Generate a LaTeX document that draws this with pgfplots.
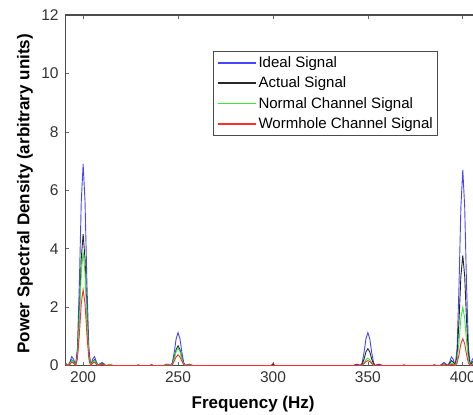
\documentclass[border=0pt]{standalone}
\usepackage{fontspec}
\setmainfont{Liberation Sans}
\usepackage{pgfplots}
\pgfplotsset{compat=1.18}
\usepackage{pgfplotstable}

\definecolor{cBlue}{RGB}{70,70,255}
\definecolor{cBlack}{RGB}{40,40,40}
\definecolor{cGreen}{RGB}{50,235,50}
\definecolor{cRed}{RGB}{255,45,45}

\pgfplotstableread{
x    ideal actual normal worm
186  0    0    0    0
188  0    0    0    0
189  0.06 0.04 0.03 0.02
190  0.11 0.07 0.06 0.04
191  0.07 0.05 0.04 0.03
192  0    0    0    0
193  0.12 0.08 0.07 0.04
194  0.31 0.20 0.18 0.12
195  0.22 0.14 0.12 0.08
196  0    0    0    0
197  0.62 0.41 0.35 0.23
198  2.79 1.82 1.58 1.05
199  5.60 3.65 3.16 2.11
200  6.90 4.50 3.90 2.60
201  5.60 3.65 3.16 2.11
202  2.79 1.82 1.58 1.05
203  0.62 0.41 0.35 0.23
204  0    0    0    0
205  0.22 0.14 0.12 0.08
206  0.31 0.20 0.18 0.12
207  0.12 0.08 0.07 0.04
208  0    0    0    0
209  0.07 0.05 0.04 0.03
210  0.11 0.07 0.06 0.04
211  0.06 0.04 0.03 0.02
212  0    0    0    0
214  0.03 0.02 0.04 0.01
216  0    0    0    0
228  0    0    0    0
229  0.02 0.02 0.03 0.01
230  0    0    0    0
235  0    0    0    0
236  0.02 0.03 0.02 0.01
237  0    0    0    0
242  0    0    0    0
243  0.02 0.01 0.01 0.01
244  0.05 0.03 0.03 0.02
245  0.04 0.02 0.02 0.01
246  0    0    0    0
247  0.10 0.06 0.05 0.03
248  0.46 0.28 0.24 0.15
249  0.92 0.55 0.49 0.30
250  1.13 0.68 0.60 0.37
251  0.92 0.55 0.49 0.30
252  0.46 0.28 0.24 0.15
253  0.10 0.06 0.05 0.03
254  0    0    0    0
255  0.04 0.02 0.02 0.01
256  0.05 0.03 0.03 0.02
257  0.02 0.01 0.01 0.01
258  0    0    0    0
299  0    0    0    0
300  0    0.06 0    0
301  0    0    0    0
342  0    0    0    0
343  0.02 0.01 0    0
344  0.05 0.03 0.01 0.01
345  0.04 0.02 0.01 0.01
346  0    0    0    0
347  0.10 0.05 0.02 0.02
348  0.46 0.23 0.10 0.07
349  0.92 0.47 0.20 0.14
350  1.13 0.58 0.25 0.17
351  0.92 0.47 0.20 0.14
352  0.46 0.23 0.10 0.07
353  0.10 0.05 0.02 0.02
354  0    0    0    0
355  0.04 0.02 0.01 0.01
356  0.05 0.03 0.01 0.01
357  0.02 0.01 0    0
358  0    0    0    0
368  0    0    0    0
369  0.02 0.02 0.01 0.01
370  0    0    0    0
384  0    0    0    0
385  0.03 0.02 0.02 0.01
386  0    0    0    0
388  0    0    0    0
389  0.05 0.03 0.02 0.01
390  0.11 0.06 0.03 0.01
391  0.07 0.04 0.02 0.01
392  0    0    0    0
393  0.11 0.06 0.03 0.02
394  0.30 0.17 0.09 0.04
395  0.21 0.12 0.06 0.03
396  0    0    0    0
397  0.60 0.34 0.18 0.08
398  2.71 1.53 0.81 0.37
399  5.43 3.06 1.62 0.75
400  6.70 3.77 2.00 0.92
401  5.43 3.06 1.62 0.75
402  2.71 1.53 0.81 0.37
403  0.60 0.34 0.18 0.08
404  0    0    0    0
405  0.21 0.12 0.06 0.03
406  0.30 0.17 0.09 0.04
407  0.11 0.06 0.03 0.02
408  0    0    0    0
}\psd

\begin{document}
\begin{tikzpicture}
\begin{axis}[
    scale only axis,
    width=408pt, height=350pt,
    xmin=190.5, xmax=405.8,
    ymin=0, ymax=12,
    axis line style={black!70, line width=1.2pt},
    xtick={200,250,300,350,400},
    ytick={0,2,...,12},
    ytick pos=left,
    xtick pos=both,
    major tick length=4pt,
    tick style={black!60, line width=0.6pt},
    ticklabel style={font=\fontsize{15.5}{17}\selectfont, text=black!80},
    /pgf/number format/assume math mode=true,
    xticklabel style={yshift=-3pt},
    yticklabel style={xshift=-3pt},
    xlabel={\textbf{Frequency (Hz)}},
    ylabel={\textbf{Power Spectral Density (arbitrary units)}},
    label style={font=\fontsize{17}{19}\selectfont},
    xlabel style={at={(rel axis cs:0.46,0)}, anchor=center, yshift=-38pt},
    ylabel style={at={(rel axis cs:0,0.49)}, anchor=center, yshift=40pt},
    clip=true,
    legend cell align=left,
    legend image code/.code={\draw[#1, line width=1.6pt] (2pt,0pt) -- (40pt,0pt);},
    legend style={
        at={(0.363,0.897)}, anchor=north west,
        draw=black!70, line width=0.8pt,
        font=\fontsize{15}{17}\selectfont,
        inner xsep=3pt, inner ysep=4pt,
        row sep=6pt,
        nodes={inner xsep=2pt, inner ysep=1pt},
    },
]
\addplot[cBlue, line width=0.9pt] table[x=x, y=ideal] {\psd};
\addplot[cBlack, line width=0.9pt] table[x=x, y=actual] {\psd};
\addplot[cGreen, line width=0.9pt] table[x=x, y=normal] {\psd};
\addplot[cRed, line width=0.9pt] table[x=x, y=worm] {\psd};
\legend{Ideal Signal, Actual Signal, Normal Channel Signal, Wormhole Channel Signal}
\coordinate (sw) at (rel axis cs:0,0);
\coordinate (ne) at (rel axis cs:1,1);
\end{axis}
\draw[black!70, line width=1.2pt] (sw|-ne) -- (ne);
\pgfresetboundingbox
\path[use as bounding box] ([xshift=-65pt,yshift=-49pt]sw) rectangle ([xshift=-0.8pt,yshift=15pt]ne);
\end{tikzpicture}
\end{document}
